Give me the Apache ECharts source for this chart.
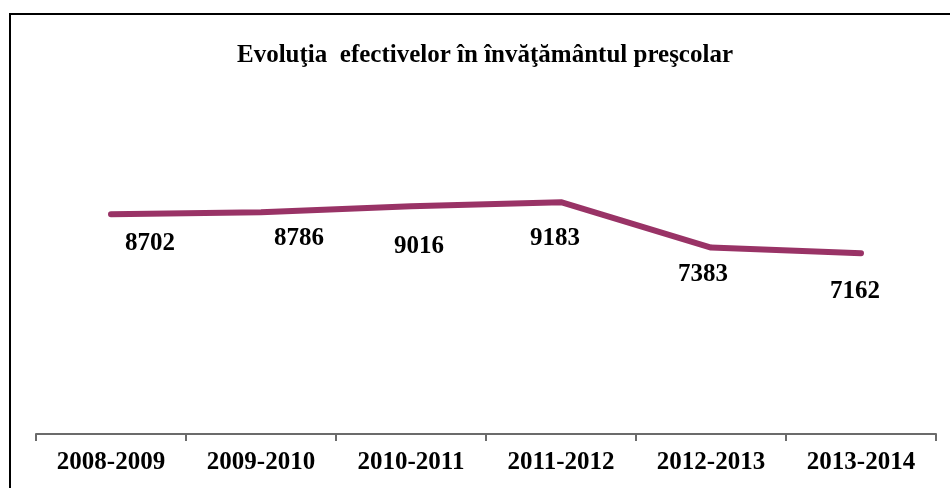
<!DOCTYPE html>
<html>
<head>
<meta charset="utf-8">
<script src="https://cdn.jsdelivr.net/npm/echarts@6/dist/echarts.min.js"></script>
<style>
html,body{margin:0;padding:0;background:#fff;}
#chart{width:950px;height:488px;}
</style>
</head>
<body>
<div id="chart"></div>
<script>
const titleText = 'Evoluţia  efectivelor în învăţământul preşcolar';
const categories = ['2008-2009', '2009-2010', '2010-2011', '2011-2012', '2012-2013', '2013-2014'];
const values = [8702, 8786, 9016, 9183, 7383, 7162];

const labelOffsets = [[39, 29], [38, 26], [8, 40], [-6, 36], [-8, 27], [-6, 38]];
const serif = '"Liberation Serif", "Times New Roman", serif';

const chart = echarts.init(document.getElementById('chart'));
chart.setOption({
  animation: false,
  backgroundColor: '#fff',
  title: {
    text: titleText,
    left: 480,
    top: 38,
    textAlign: 'center',
    textStyle: { fontFamily: serif, fontWeight: 'bold', fontSize: 25, color: '#000' }
  },
  graphic: [{
    type: 'rect',
    shape: { x: 10, y: 14, width: 1200, height: 1000 },
    style: { fill: 'none', stroke: '#000', lineWidth: 2 },
    silent: true
  }],
  grid: { left: 36, right: 14, top: 131, bottom: 54 },
  xAxis: {
    type: 'category',
    data: categories,
    boundaryGap: true,
    axisLine: { lineStyle: { color: '#6b6b6b', width: 2 } },
    axisTick: { show: true, length: 7, alignWithLabel: false, lineStyle: { color: '#6b6b6b', width: 2 } },
    axisLabel: { margin: 16, fontFamily: serif, fontWeight: 'bold', fontSize: 25, color: '#000' }
  },
  yAxis: {
    type: 'value',
    min: 0,
    max: 12000,
    show: false,
    splitLine: { show: false }
  },
  series: [{
    type: 'line',
    data: values.map((v, i) => ({
      value: v,
      label: { position: 'inside', offset: labelOffsets[i] }
    })),
    symbol: 'circle',
    symbolSize: 2,
    showSymbol: true,
    itemStyle: { color: '#993366' },
    lineStyle: { color: '#993366', width: 6, cap: 'round', join: 'round' },
    label: {
      show: true,
      fontFamily: serif,
      fontWeight: 'bold',
      fontSize: 25,
      color: '#000'
    }
  }]
});
</script>
</body>
</html>
